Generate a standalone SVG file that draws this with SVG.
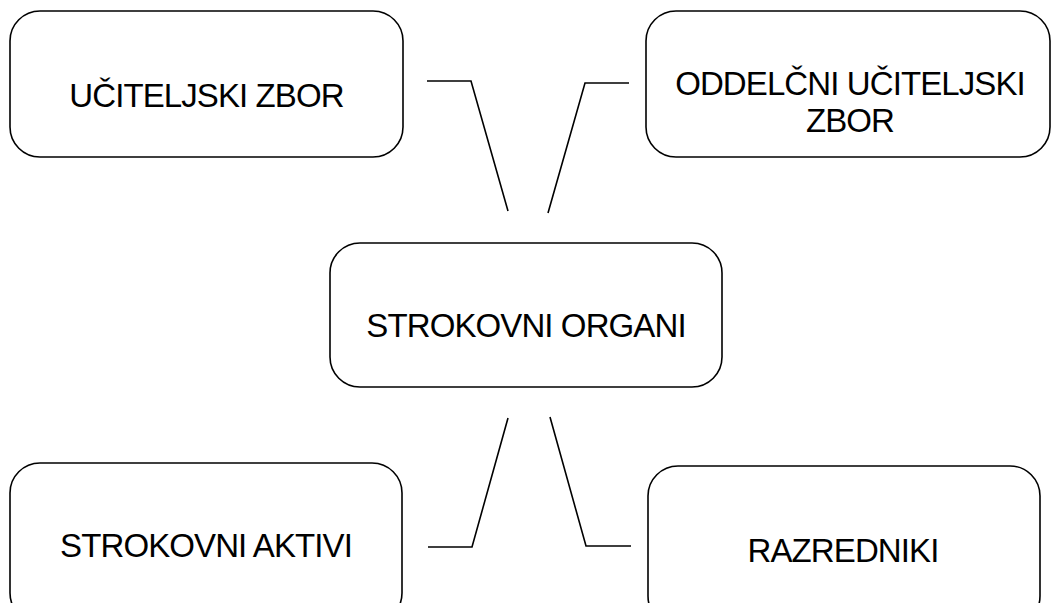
<svg xmlns="http://www.w3.org/2000/svg" width="1051" height="603" viewBox="0 0 1051 603">
<style>
.box{fill:#fff;stroke:#000;stroke-width:1.6}
.lbl{font-family:"Liberation Sans",Arial,sans-serif;font-size:33px;letter-spacing:-0.9px;fill:#000;text-anchor:middle}
.con{fill:none;stroke:#000;stroke-width:1.6}
</style>
<rect width="1051" height="603" fill="#fff"/>
<g id="connectors">
<polyline class="con" points="427,81 471,81 508,211"/>
<polyline class="con" points="548,213 585,83 629,83"/>
<polyline class="con" points="428,547 472,547 508,418"/>
<polyline class="con" points="550,417 586,546 631,546"/>
</g>
<g id="node-uciteljski-zbor">
<rect class="box" x="10" y="11" width="393" height="146" rx="30"/>
<text class="lbl" x="206.5" y="107">UČITELJSKI ZBOR</text>
</g>
<g id="node-oddelcni-uciteljski-zbor">
<rect class="box" x="646" y="11" width="404" height="146" rx="30"/>
<text class="lbl" x="850" y="95">ODDELČNI UČITELJSKI</text>
<text class="lbl" x="850" y="132">ZBOR</text>
</g>
<g id="node-strokovni-organi">
<rect class="box" x="330" y="243" width="392" height="144" rx="30"/>
<text class="lbl" x="526" y="337">STROKOVNI ORGANI</text>
</g>
<g id="node-strokovni-aktivi">
<rect class="box" x="10" y="463" width="392" height="160" rx="30"/>
<text class="lbl" x="206" y="557">STROKOVNI AKTIVI</text>
</g>
<g id="node-razredniki">
<rect class="box" x="648" y="466" width="392" height="160" rx="30"/>
<text class="lbl" x="843" y="562">RAZREDNIKI</text>
</g>
</svg>
